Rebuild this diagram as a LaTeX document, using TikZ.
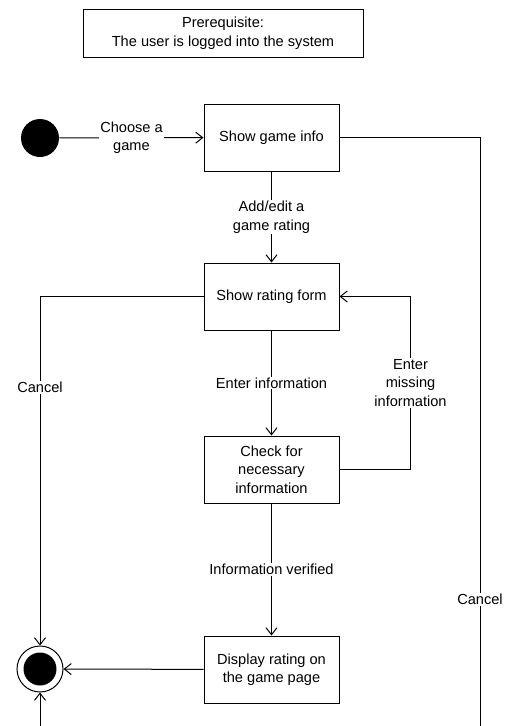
\documentclass[tikz,border=0pt]{standalone}
\usepackage{fontspec}
\setmainfont{Liberation Sans}
\usetikzlibrary{arrows.meta,positioning,calc}

\begin{document}
\begin{tikzpicture}[x=1pt,y=-1pt,line width=1pt,
    font=\fontsize{14.6}{18.5}\selectfont,
    >={Straight Barb[length=7pt,width=11pt]},
    state/.style={draw, minimum width=135pt, minimum height=67pt, align=center, inner sep=2pt},
    lbl/.style={fill=white, align=center, inner sep=1pt}]
    \clip (0,0) rectangle (510,726);
    \node[draw, minimum width=280pt, minimum height=48pt, align=center] (pre) at (223,33)
      {Prerequisite:\\The user is logged into the system};
    \node[circle, fill=black, minimum size=38pt, inner sep=0pt] (start) at (40,138) {};
    \node[state] (info) at (271.5,137.5) {Show game info};
    \node[state] (form) at (271.5,296.5) {Show rating form};
    \node[state] (check) at (271.5,469.5) {Check for\\necessary\\information};
    \node[state] (show) at (271.5,669.5) {Display rating on\\the game page};
    \node[circle, draw, minimum size=46pt, inner sep=0pt] (end) at (40,669) {};
    \node[circle, fill=black, minimum size=33pt, inner sep=0pt] (endin) at (end) {};
    \coordinate (loop) at (480,745);

    \draw[->] (start) -- node[lbl] {Choose a\\game} (info);
    \draw[->] (info) -- node[lbl] {Add/edit a\\game rating} (form);
    \draw[->] (form) -- node[lbl] {Enter information} (check);
    \draw[->] (check) -- node[lbl] {Information verified} (show);
    \draw[->] (show) -- (end);
    \draw[->] (check.east) -- ++(71,0) |- node[lbl,pos=0.25] {Enter\\missing\\information} (form.east);
    \draw[->] (form.west) -| node[lbl,pos=0.63] {Cancel} (end.north);
    \draw[->] (info.east) -| node[lbl,pos=0.88] {Cancel} (loop) -| (end.south);
  \end{tikzpicture}
\end{document}
